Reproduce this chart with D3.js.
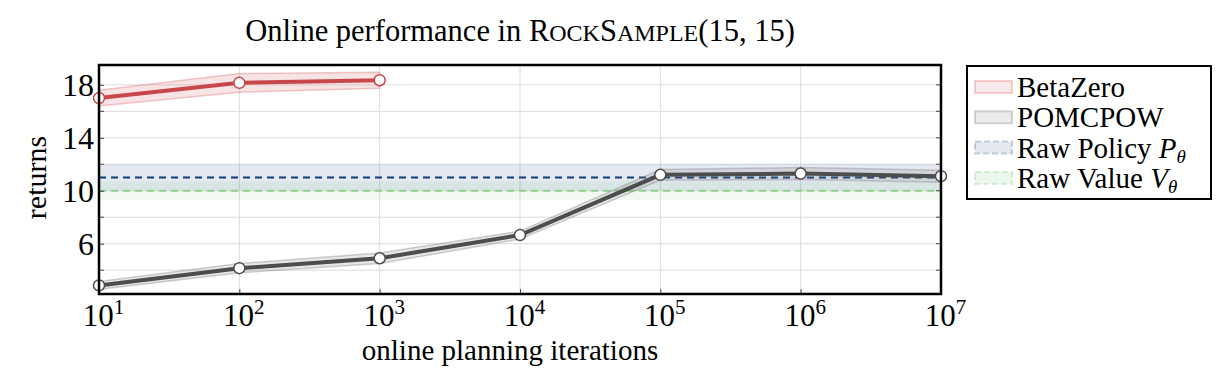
<!DOCTYPE html>
<html>
<head>
<meta charset="utf-8">
<script src="https://cdn.jsdelivr.net/npm/d3@7"></script>
<style>
  body { margin: 0; background: #fff; }
  text { font-family: "Liberation Serif", "DejaVu Serif", serif; fill: #000; }
</style>
</head>
<body>
<svg id="chart"></svg>
<script>
// data
const iterations = [1e1, 1e2, 1e3, 1e4, 1e5, 1e6, 1e7];
const betaZeroX = [1e1, 1e2, 1e3];
const betaZeroMean = [17.0, 18.15, 18.35];
const betaZeroErr = [0.6, 0.7, 0.6];
const pomcpowMean = [2.85, 4.15, 4.9, 6.65, 11.2, 11.3, 11.1];
const pomcpowErr = [0.3, 0.35, 0.4, 0.3, 0.4, 0.45, 0.45];
const policyMean = 11.0, policyErr = 1.0;
const valueMean = 10.0, valueErr = 0.7;
const yTicks = [6, 10, 14, 18];
const yMinor = [4, 8, 12, 16];
const legendNames = ["BetaZero", "POMCPOW", "Raw Policy", "Raw Value"];

const W = 1217, H = 382;
const margin = { top: 65, right: 276, left: 99, bottom: 88 };
const width = W - margin.left - margin.right;
const height = H - margin.top - margin.bottom;

const svg = d3.select('#chart').attr('width', W).attr('height', H);
const chart = svg.append('g').attr('transform', `translate(${margin.left},${margin.top})`);

const xScale = d3.scaleLog().domain([1e1, 1e7]).range([0, width]);
const yScale = d3.scaleLinear().domain([2.2, 19.5]).range([height, 0]);

// grid
chart.selectAll('.vgrid').data(iterations).join('line')
  .attr('x1', d => xScale(d)).attr('x2', d => xScale(d))
  .attr('y1', 0).attr('y2', height)
  .attr('stroke', '#dcdcdc').attr('stroke-width', 1);
chart.selectAll('.hgrid').data(yTicks.concat(yMinor)).join('line')
  .attr('x1', 0).attr('x2', width)
  .attr('y1', d => yScale(d)).attr('y2', d => yScale(d))
  .attr('stroke', '#dcdcdc').attr('stroke-width', 1);

// horizontal reference bands
chart.append('rect')
  .attr('x', 0).attr('width', width)
  .attr('y', yScale(valueMean + valueErr))
  .attr('height', yScale(valueMean - valueErr) - yScale(valueMean + valueErr))
  .attr('fill', '#7fc97f').attr('opacity', 0.1);
chart.append('rect')
  .attr('x', 0).attr('width', width)
  .attr('y', yScale(policyMean + policyErr))
  .attr('height', yScale(policyMean - policyErr) - yScale(policyMean + policyErr))
  .attr('fill', '#4d6e99').attr('opacity', 0.15);

chart.append('line')
  .attr('x1', 0).attr('x2', width)
  .attr('y1', yScale(valueMean)).attr('y2', yScale(valueMean))
  .attr('stroke', '#8fd08f').attr('stroke-width', 2).attr('stroke-dasharray', '7,5');
chart.append('line')
  .attr('x1', 0).attr('x2', width)
  .attr('y1', yScale(policyMean)).attr('y2', yScale(policyMean))
  .attr('stroke', '#0b3d7a').attr('stroke-width', 2).attr('stroke-dasharray', '7,5');

// series
function drawSeries(xs, mean, err, color, bandColor) {
  const pts = xs.map((x, i) => ({ x: x, m: mean[i], e: err[i] }));
  const area = d3.area()
    .x(d => xScale(d.x))
    .y0(d => yScale(d.m - d.e))
    .y1(d => yScale(d.m + d.e));
  chart.append('path').datum(pts)
    .attr('d', area)
    .attr('fill', bandColor).attr('fill-opacity', 0.18)
    .attr('stroke', bandColor).attr('stroke-opacity', 0.35).attr('stroke-width', 1.5);
  const line = d3.line().x(d => xScale(d.x)).y(d => yScale(d.m));
  chart.append('path').datum(pts)
    .attr('d', line)
    .attr('fill', 'none').attr('stroke', color).attr('stroke-width', 4);
  chart.selectAll(null).data(pts).join('circle')
    .attr('cx', d => xScale(d.x)).attr('cy', d => yScale(d.m))
    .attr('r', 5.5)
    .attr('fill', '#fff').attr('stroke', color).attr('stroke-width', 1.5);
}
drawSeries(iterations, pomcpowMean, pomcpowErr, '#4d4d4d', '#7a7a7a');
drawSeries(betaZeroX, betaZeroMean, betaZeroErr, '#c8484a', '#d9676a');

// axes
const xAxis = d3.axisBottom(xScale).tickValues(iterations).tickSize(5).tickFormat('');
const xAxisGroup = chart.append('g').attr('transform', `translate(0,${height})`).call(xAxis);
xAxisGroup.selectAll('line').attr('stroke', '#444').attr('transform', 'translate(0,-5)');
xAxisGroup.select('.domain').remove();
xAxisGroup.selectAll('.tick').append('text')
  .attr('y', 32).attr('x', 4).attr('text-anchor', 'middle').attr('font-size', 31)
  .each(function(d) {
    const t = d3.select(this);
    t.append('tspan').text('10');
    t.append('tspan').attr('dy', -12).attr('font-size', 21).text(Math.round(Math.log10(d)));
  });

const yAxis = d3.axisLeft(yScale).tickValues(yTicks).tickSize(5).tickFormat(d => d);
const yAxisGroup = chart.append('g').call(yAxis);
yAxisGroup.select('.domain').remove();
yAxisGroup.selectAll('line').attr('transform', 'translate(5,0)').attr('stroke', '#444');
yAxisGroup.selectAll('text').attr('font-size', 32).attr('x', -5).attr('dy', '0.34em')
  .attr('font-family', '"Liberation Serif", serif');
chart.selectAll('.yminor').data(yMinor).join('line')
  .attr('x1', 0).attr('x2', 5)
  .attr('y1', d => yScale(d)).attr('y2', d => yScale(d)).attr('stroke', '#444');
chart.selectAll('.yright').data(yTicks.concat(yMinor)).join('line')
  .attr('x1', width - 5).attr('x2', width)
  .attr('y1', d => yScale(d)).attr('y2', d => yScale(d)).attr('stroke', '#444');

// frame
chart.append('rect')
  .attr('x', 0).attr('y', 0).attr('width', width).attr('height', height)
  .attr('fill', 'none').attr('stroke', '#000').attr('stroke-width', 2.5);

// labels
svg.append('text')
  .attr('x', margin.left + width / 2 - 10).attr('y', H - 22)
  .attr('text-anchor', 'middle').attr('font-size', 29)
  .text('online planning iterations');
svg.append('text')
  .attr('transform', `translate(46,${margin.top + height / 2 - 2}) rotate(-90)`)
  .attr('text-anchor', 'middle').attr('font-size', 30)
  .text('returns');

const title = svg.append('text')
  .attr('x', margin.left + width / 2).attr('y', 41)
  .attr('text-anchor', 'middle').attr('font-size', 30.5);
title.append('tspan').text('Online performance in R');
title.append('tspan').attr('font-size', 24).text('OCK');
title.append('tspan').text('S');
title.append('tspan').attr('font-size', 24).text('AMPLE');
title.append('tspan').text('(15, 15)');

// legend
const legend = svg.append('g').attr('transform', 'translate(967,66)');
legend.append('rect')
  .attr('width', 244).attr('height', 133)
  .attr('fill', '#fff').attr('stroke', '#000').attr('stroke-width', 2);
const legendStyle = [
  { fill: '#d9676a', dash: null },
  { fill: '#7a7a7a', dash: null },
  { fill: '#4d6e99', dash: '6,3' },
  { fill: '#7fc97f', dash: '6,3' }
];
const entries = legend.selectAll('.entry').data(legendNames).join('g')
  .attr('transform', (d, i) => `translate(0,${21 + i * 30.3})`);
entries.append('rect')
  .attr('x', 8).attr('y', -6).attr('width', 37).attr('height', 12)
  .attr('fill', (d, i) => legendStyle[i].fill).attr('fill-opacity', 0.15)
  .attr('stroke', (d, i) => legendStyle[i].fill).attr('stroke-opacity', 0.3)
  .attr('stroke-width', 2)
  .attr('stroke-dasharray', (d, i) => legendStyle[i].dash);
entries.append('text')
  .attr('x', 50).attr('y', 10).attr('font-size', 29)
  .each(function(d, i) {
    const t = d3.select(this);
    t.append('tspan').text(d);
    if (i === 2 || i === 3) {
      t.append('tspan').text(' ');
      t.append('tspan').attr('font-style', 'italic').text(i === 2 ? 'P' : 'V');
      t.append('tspan').attr('font-style', 'italic').attr('font-size', 19).attr('dy', 5).text('θ');
    }
  });
</script>
</body>
</html>
